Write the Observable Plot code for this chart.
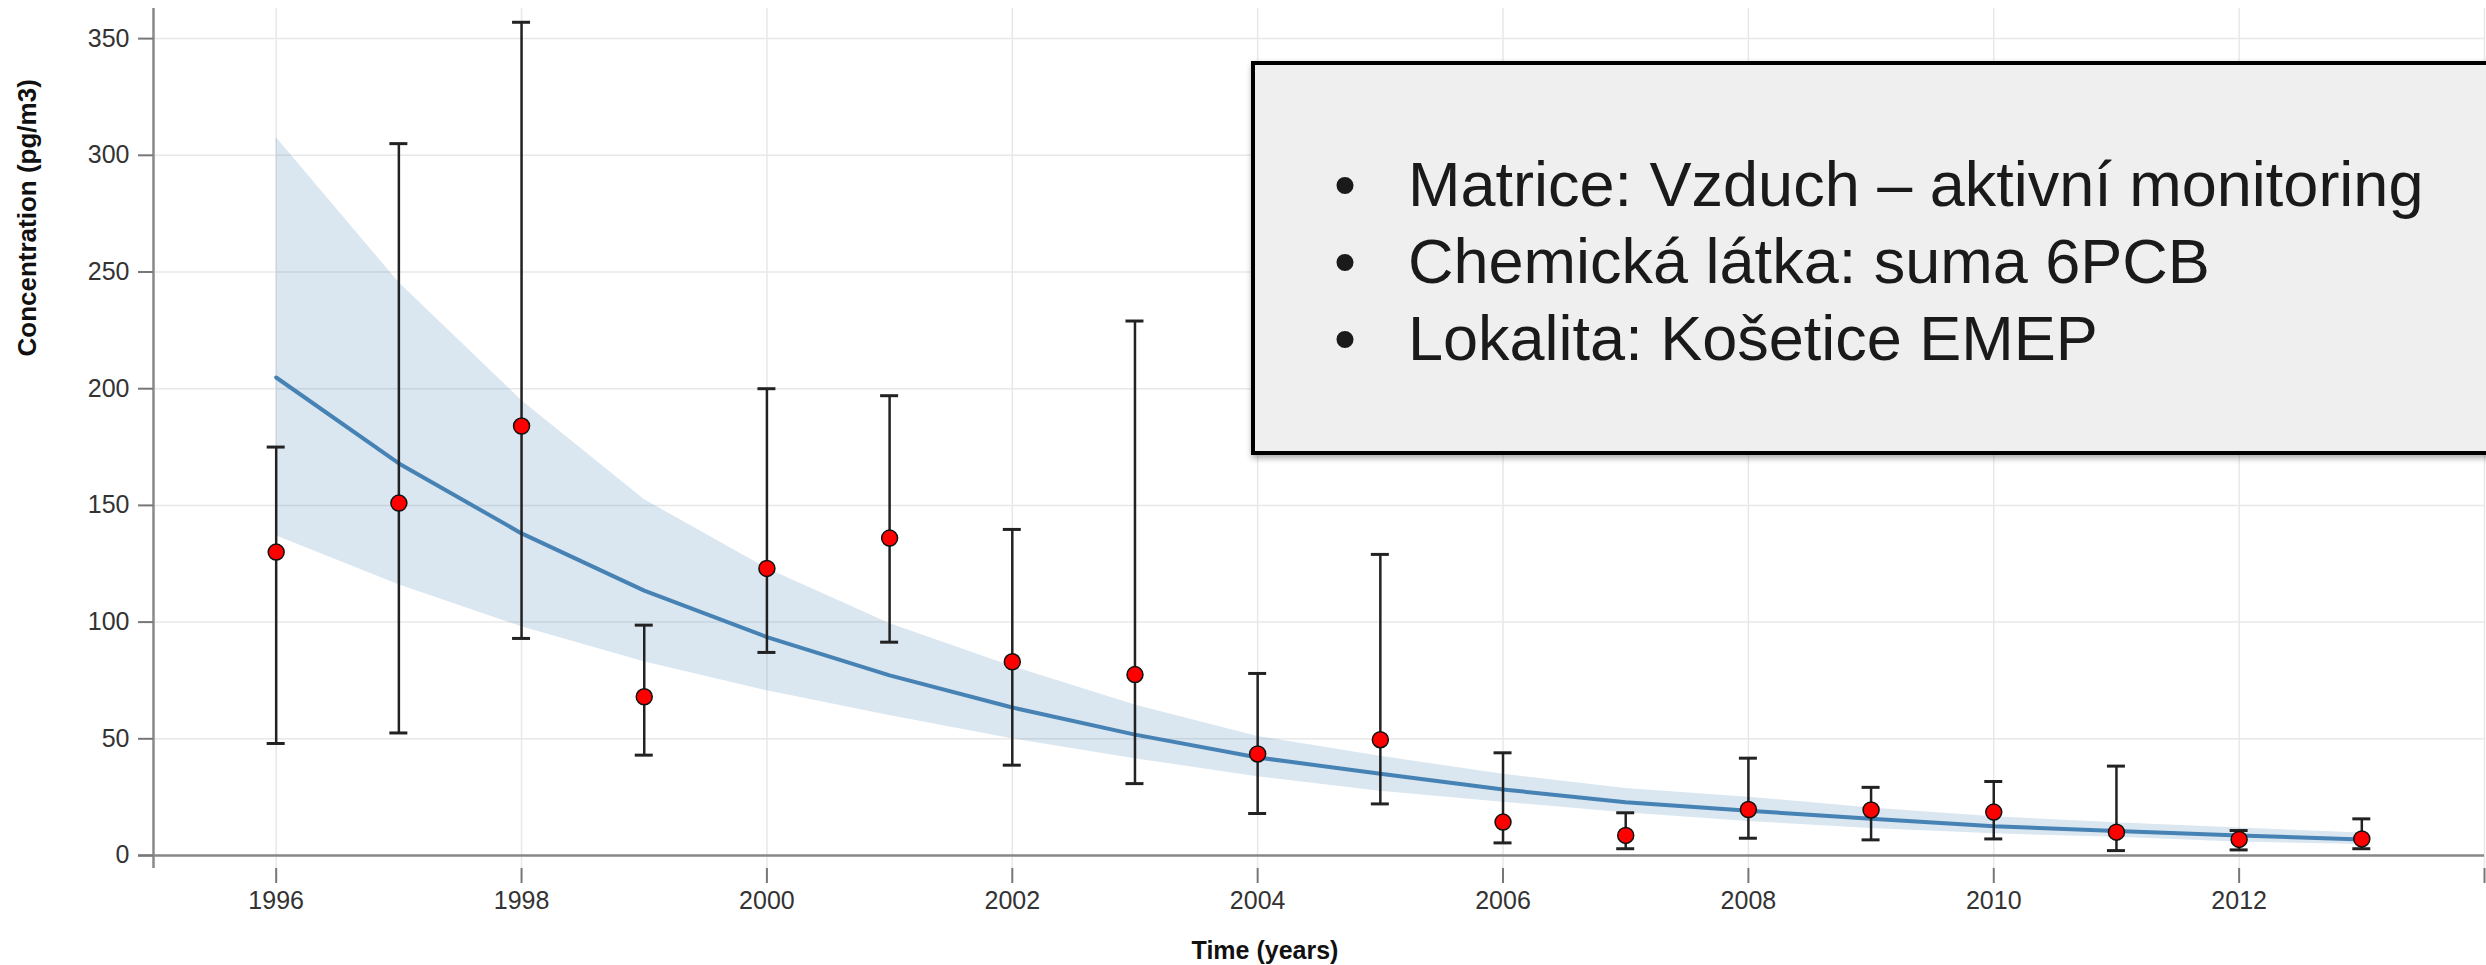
<!DOCTYPE html>
<html>
<head>
<meta charset="utf-8">
<script src="https://cdn.jsdelivr.net/npm/d3@7"></script>
<script src="https://cdn.jsdelivr.net/npm/@observablehq/plot@0.6"></script>
<style>
  html, body { margin: 0; padding: 0; background: #fff; }
  #chart svg { display: block; }
</style>
</head>
<body>
<div id="chart"></div>
<script>
// ---- data ----
const years    = [1996, 1997, 1998, 1999, 2000, 2001, 2002, 2003, 2004, 2005, 2006, 2007, 2008, 2009, 2010, 2011, 2012, 2013];
const measured = [130, 151, 184, 68, 123, 136, 83, 77.5, 43.5, 49.6, 14.3, 8.6, 19.7, 19.5, 18.6, 10, 6.9, 7.1];
const errLow   = [48, 52.5, 93, 43, 87, 91.4, 38.7, 30.8, 18, 22.1, 5.4, 2.9, 7.4, 6.7, 7.1, 2.1, 2.4, 2.9];
const errHigh  = [175, 305, 357, 98.7, 200, 197, 139.7, 229, 78, 129, 44, 18.3, 41.7, 29.2, 31.7, 38.3, 10.7, 15.7];
const trend    = [204.8, 168, 138, 113.5, 93.6, 77.2, 63.4, 51.8, 42, 35, 28.3, 22.8, 19.2, 15.7, 12.5, 10.5, 8.6, 6.9];
const bandLow  = [137, 116, 98, 83, 70.6, 60, 50, 41.5, 33.7, 27.5, 22.8, 18.3, 14.6, 11.6, 9.3, 7.8, 5.8, 4.7];
const bandHigh = [307.6, 245.5, 195, 152.5, 123, 99.4, 81, 64.5, 51, 42.5, 34.8, 28.7, 25, 20.3, 16.6, 14, 11.8, 9.6];

const xTicks = [1996, 1998, 2000, 2002, 2004, 2006, 2008, 2010, 2012, 2014];
const xTickLabels = ["1996", "1998", "2000", "2002", "2004", "2006", "2008", "2010", "2012", ""];
const yTicks = [0, 50, 100, 150, 200, 250, 300, 350];
const xTitle = "Time (years)";
const yTitle = "Concentration (pg/m3)";
const legendLines = [
  "Matrice: Vzduch – aktivní monitoring",
  "Chemická látka: suma 6PCB",
  "Lokalita: Košetice EMEP"
];

const rows = years.map((year, i) => ({
  year, value: measured[i], lo: errLow[i], hi: errHigh[i],
  fit: trend[i], bandLo: bandLow[i], bandHi: bandHigh[i]
}));

const xDomain = [1995, 2014];
const yDomain = [-5.57, 362.9];
const font = "'Liberation Sans', Arial, Helvetica, sans-serif";

const chart = Plot.plot({
  width: 2486,
  height: 965,
  marginLeft: 153,
  marginRight: 2,
  marginTop: 8,
  marginBottom: 97,
  style: { fontFamily: font, fontSize: "25px", background: "#fff", overflow: "visible" },
  x: { domain: xDomain, label: null },
  y: { domain: yDomain, label: null },
  marks: [
    Plot.gridX({ ticks: xTicks, stroke: "#e8e8e8", strokeOpacity: 1, strokeWidth: 1.5 }),
    Plot.gridY({ ticks: yTicks, stroke: "#e8e8e8", strokeOpacity: 1, strokeWidth: 1.5 }),
    Plot.areaY(rows, { x: "year", y1: "bandLo", y2: "bandHi", fill: "steelblue", fillOpacity: 0.2 }),
    Plot.lineY(rows, { x: "year", y: "fit", stroke: "steelblue", strokeWidth: 4 }),
    // axis lines
    Plot.ruleY([0], { x1: xDomain[0] - 0.1223, x2: xDomain[1], stroke: "#888", strokeWidth: 2.5 }),
    Plot.ruleX([xDomain[0]], { y1: yDomain[0], y2: yDomain[1], stroke: "#888", strokeWidth: 2.5 }),
    Plot.axisX({
      ticks: xTicks, tickSize: 15, tickPadding: 8, label: null,
      tickFormat: d => xTickLabels[xTicks.indexOf(d)],
      stroke: "#777", strokeWidth: 2, fill: "#333", fontSize: 25
    }),
    Plot.axisY({
      ticks: yTicks, tickSize: 15, tickPadding: 9, label: null,
      tickFormat: d => String(d),
      stroke: "#777", strokeWidth: 2, fill: "#333", fontSize: 25
    }),
    Plot.text([xTitle], {
      frameAnchor: "bottom", lineAnchor: "middle", dx: -54, dy: 82,
      fontWeight: "bold", fontSize: 25, fill: "#111"
    }),
    Plot.text([yTitle], {
      frameAnchor: "left", lineAnchor: "middle", rotate: -90, dx: -126, dy: -82,
      fontWeight: "bold", fontSize: 26, fill: "#111"
    }),
    // error bars
    Plot.ruleX(rows, { x: "year", y1: "lo", y2: "hi", stroke: "#222", strokeWidth: 2.5 }),
    Plot.ruleY(rows, { y: "hi", x1: "year", x2: "year", insetLeft: -9, insetRight: -9, stroke: "#222", strokeWidth: 3 }),
    Plot.ruleY(rows, { y: "lo", x1: "year", x2: "year", insetLeft: -9, insetRight: -9, stroke: "#222", strokeWidth: 3 }),
    Plot.dot(rows, { x: "year", y: "value", r: 8, fill: "#ff0000", stroke: "#111", strokeWidth: 1.5 })
  ]
});

document.getElementById("chart").appendChild(chart);

// ---- annotation box ----
const svg = d3.select(chart);
const defs = svg.append("defs");
const f = defs.append("filter").attr("id", "boxShadow").attr("x", "-5%").attr("y", "-5%").attr("width", "115%").attr("height", "120%");
f.append("feDropShadow").attr("dx", 1).attr("dy", 3).attr("stdDeviation", 3).attr("flood-color", "#000").attr("flood-opacity", 0.35);

const box = svg.append("g").attr("text-anchor", "start");
box.append("rect")
  .attr("x", 1253).attr("y", 63).attr("width", 1300).attr("height", 390)
  .attr("fill", "#efefef").attr("stroke", "#000").attr("stroke-width", 4)
  .attr("filter", "url(#boxShadow)");

legendLines.forEach((t, i) => {
  const y = 205.7 + 77.3 * i;
  box.append("text").attr("x", 1345).attr("y", y).attr("text-anchor", "middle")
    .attr("font-family", font).attr("font-size", 63).attr("fill", "#1a1a1a").text("•");
  box.append("text").attr("x", 1408).attr("y", y).attr("text-anchor", "start")
    .attr("font-family", font).attr("font-size", 63).attr("fill", "#1a1a1a").text(t);
});
</script>
</body>
</html>
